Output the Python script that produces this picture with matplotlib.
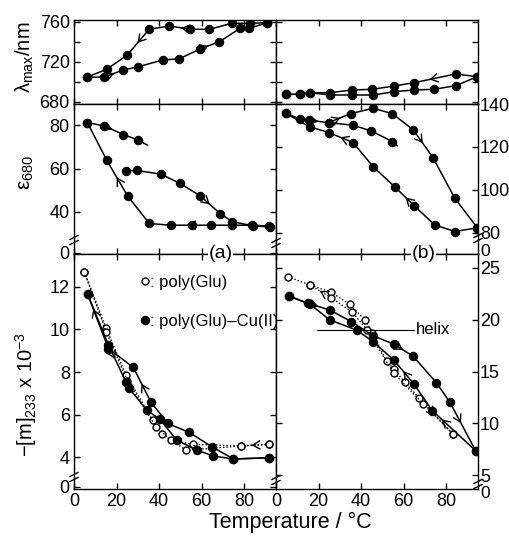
import matplotlib
matplotlib.use('Agg')
import matplotlib.pyplot as plt
from matplotlib.lines import Line2D

plt.rcParams['font.family'] = ['Liberation Sans', 'DejaVu Sans']
plt.rcParams['mathtext.fontset'] = 'custom'
plt.rcParams['mathtext.rm'] = 'Liberation Sans'
plt.rcParams['mathtext.it'] = 'Liberation Sans'
plt.rcParams['mathtext.bf'] = 'Liberation Sans:bold'
plt.rcParams['axes.linewidth'] = 1.0

# ---- (a) poly(Glu)-Cu(II): lambda max ----
ta_heat_T = [5.9, 14.1, 23.2, 30.3, 41.7, 49.6, 59.3, 68.4, 78.1, 82.5, 90.7]
ta_heat_L = [704.7, 705.0, 712.0, 715.3, 722.0, 723.3, 733.0, 740.3, 753.7, 753.7, 759.3]
ta_cool_T = [90.7, 82.8, 74.2, 63.7, 54.6, 44.9, 35.3, 25.1, 15.4, 5.9]
ta_cool_L = [759.3, 758.7, 758.7, 752.7, 752.7, 756.0, 752.7, 727.0, 712.7, 704.7]

# ---- (b) lambda max ----
tb_up_T = [94.7, 84.5, 64.9, 55.5, 45.3, 35.8, 25.3, 15.9, 11.2, 4.5]
tb_up_L = [705.3, 708.0, 699.3, 696.0, 692.7, 692.0, 689.3, 689.3, 687.7, 687.7]
tb_lo_T = [4.5, 11.2, 15.9, 25.6, 35.8, 45.7, 55.5, 64.9, 74.3, 84.5, 94.7]
tb_lo_L = [687.7, 687.7, 689.3, 687.0, 687.0, 687.0, 690.3, 692.0, 692.7, 696.3, 705.3]

# ---- (a) epsilon 680 ----
ma_s_T = [6.3, 14.1, 23.2, 30.3, 34.5]
ma_s_E = [81.2, 79.7, 75.7, 73.1, 70.8]
ma_cool_T = [91.9, 83.9, 74.5, 64.3, 55.4, 45.5, 35.4, 25.3, 15.4, 6.3]
ma_cool_E = [33.4, 33.8, 33.8, 33.8, 33.8, 33.8, 34.6, 47.2, 63.8, 81.2]
ma_heat_T = [24.5, 29.5, 40.8, 49.9, 59.3, 68.7, 74.5, 84.4, 92.0]
ma_heat_E = [58.8, 59.1, 57.4, 53.1, 47.4, 39.2, 35.4, 33.5, 33.0]

# ---- (b) epsilon 680 ----
mb_s_T = [4.5, 11.2, 15.4, 24.8, 36.3, 44.8, 54.7, 57.0]
mb_s_E = [135.7, 133.0, 132.4, 131.3, 130.1, 127.4, 122.5, 120.5]
mb_heat_T = [24.8, 35.1, 45.7, 54.7, 64.6, 73.8, 84.1, 94.7]
mb_heat_E = [131.3, 135.5, 138.0, 135.5, 127.9, 115.0, 96.0, 82.2]
mb_cool_T = [94.7, 84.1, 74.6, 64.9, 55.8, 45.7, 36.3, 24.8, 15.9, 4.5]
mb_cool_E = [82.2, 80.5, 83.6, 92.6, 101.4, 110.7, 122.0, 126.7, 129.3, 135.7]

# ---- (a) -[m]233 ----
ba_cu1_T = [6.4, 16.2, 24.5, 26.0, 34.2, 40.5, 48.3, 57.7, 65.6, 75.0, 91.9]
ba_cu1_m = [11.66, 9.27, 7.52, 7.23, 6.21, 5.77, 4.80, 4.33, 4.05, 3.91, 3.97]
ba_cu2_T = [91.9, 75.0, 64.8, 54.2, 44.1, 36.1, 27.9, 16.2, 6.4]
ba_cu2_m = [3.97, 3.91, 4.49, 5.16, 5.58, 6.60, 8.22, 9.10, 11.66]
ba_o1_T = [4.8, 15.1, 24.5, 37.0, 41.6, 52.7, 64.8, 78.6, 91.9]
ba_o1_m = [12.72, 10.06, 7.86, 5.74, 5.07, 4.33, 4.41, 4.53, 4.60]
ba_o2_T = [91.9, 78.6, 55.8, 45.6, 38.6, 25.0, 15.1, 4.8]
ba_o2_m = [4.60, 4.53, 4.60, 4.80, 5.43, 7.60, 9.90, 12.72]

# ---- (b) -[m]233 ----
bb_cu1_T = [6.0, 15.0, 25.3, 35.5, 45.7, 55.4, 64.4, 75.4, 81.8, 93.9]
bb_cu1_m = [22.29, 21.59, 20.94, 19.81, 18.46, 17.63, 16.50, 13.92, 12.02, 7.35]
bb_cu2_T = [93.9, 73.5, 64.9, 55.4, 45.7, 37.9, 25.3, 16.0, 6.0]
bb_cu2_m = [7.35, 11.22, 13.79, 16.11, 17.88, 19.00, 19.98, 21.50, 22.29]
bb_o1_T = [5.6, 15.9, 26.0, 34.7, 41.8, 45.3, 52.0, 55.4, 60.5, 67.2, 83.2]
bb_o1_m = [24.16, 23.36, 22.65, 21.49, 19.98, 18.75, 16.01, 15.24, 13.96, 12.47, 8.96]
bb_o2_T = [83.2, 69.3, 55.4, 42.9, 35.9, 26.0, 15.9]
bb_o2_m = [8.96, 11.86, 14.83, 19.00, 20.72, 22.13, 23.36]

helix_T = [19.5, 64.7]
helix_m = [19.05, 19.05]

xticks = [0, 20, 40, 60, 80]

W, H = 510, 538
fig = plt.figure(figsize=(W / 100, H / 100), dpi=100)


def box(x0, y0, x1, y1):
    return fig.add_axes([x0 / W, 1 - y1 / H, (x1 - x0) / W, (y1 - y0) / H])


ax_ta = box(74, 20, 276, 104)
ax_tb = box(276, 20, 478, 104)
ax_ma = box(74, 104, 276, 254)
ax_mb = box(276, 104, 478, 254)
ax_ba = box(74, 254, 276, 489)
ax_bb = box(276, 254, 478, 489)

for ax in [ax_ta, ax_tb, ax_ma, ax_mb, ax_ba, ax_bb]:
    ax.set_xlim(0, 95)
    ax.set_xticks(xticks)
    ax.tick_params(direction='in', length=4.5, width=1.0, top=True, right=True,
                   labelbottom=False, labelleft=False, labelsize=13, pad=3)

ax_ba.tick_params(labelbottom=True, labelleft=True)
ax_bb.tick_params(labelbottom=True, labelright=True)
ax_ta.tick_params(labelleft=True)
ax_ma.tick_params(labelleft=True)
ax_mb.tick_params(labelright=True)
ax_mb.tick_params(axis='y', pad=1.5)
ax_bb.tick_params(axis='y', pad=1.5)

ax_ta.set_ylim(678, 762)
ax_tb.set_ylim(678, 762)
ax_ta.set_yticks([680, 700, 720, 740, 760])
ax_ta.set_yticklabels(['680', '', '720', '', '760'])
ax_tb.set_yticks([680, 700, 720, 740, 760])

ax_ma.set_ylim(20.5, 89.8)
ax_ma.set_yticks([21, 40, 60, 80])
ax_ma.set_yticklabels(['0', '40', '60', '80'])
ax_mb.set_ylim(70, 140)
ax_mb.set_yticks([80, 100, 120, 140])

ax_ba.set_ylim(2.5, 13.55)
ax_ba.set_yticks([2.6, 4, 6, 8, 10, 12])
ax_ba.set_yticklabels(['0', '4', '6', '8', '10', '12'])
ax_bb.set_ylim(3.65, 26.35)
ax_bb.set_yticks([5, 10, 15, 20, 25])

# "0" labels below the right-hand axis breaks
for ax, dy in [(ax_mb, 2), (ax_bb, -3)]:
    ax.annotate('0', xy=(1, 0), xycoords='axes fraction', xytext=(2, dy),
                textcoords='offset points', fontsize=12.5, ha='left', va='center')

fk = dict(color='k', lw=1.1, marker='o', ms=5.8, mfc='k', mec='k')
ok = dict(color='k', lw=1.0, ls=(0, (1, 1.5)), marker='o', ms=5.0, mfc='white', mec='k', mew=1.0)


def arrow(ax, xs, ys, i, f=0.5):
    x0, y0, x1, y1 = xs[i], ys[i], xs[i + 1], ys[i + 1]
    a, b = f - 0.03, f + 0.03
    ax.annotate('', xy=(x0 + (x1 - x0) * b, y0 + (y1 - y0) * b),
                xytext=(x0 + (x1 - x0) * a, y0 + (y1 - y0) * a),
                arrowprops=dict(arrowstyle='->,head_length=0.5,head_width=0.3',
                                lw=1.0, color='k', shrinkA=0, shrinkB=0),
                annotation_clip=False)


# top panels
ax_ta.plot(ta_heat_T, ta_heat_L, **fk)
ax_ta.plot(ta_cool_T, ta_cool_L, **fk)
arrow(ax_ta, ta_heat_T, ta_heat_L, 1)
arrow(ax_ta, ta_heat_T, ta_heat_L, 6, 0.4)
arrow(ax_ta, ta_cool_T, ta_cool_L, 4, 0.4)
arrow(ax_ta, ta_cool_T, ta_cool_L, 6, 0.5)

ax_tb.plot(tb_up_T, tb_up_L, **fk)
ax_tb.plot(tb_lo_T, tb_lo_L, **fk)
arrow(ax_tb, tb_up_T, tb_up_L, 1, 0.6)

# middle panels
ax_ma.plot(ma_s_T, ma_s_E, markevery=[0, 1, 2, 3], **fk)
ax_ma.plot(ma_cool_T, ma_cool_E, **fk)
ax_ma.plot(ma_heat_T, ma_heat_E, **fk)
arrow(ax_ma, ma_s_T, ma_s_E, 1, 0.4)
arrow(ax_ma, ma_cool_T, ma_cool_E, 4, 0.2)
arrow(ax_ma, ma_cool_T, ma_cool_E, 7, 0.5)
arrow(ax_ma, ma_heat_T, ma_heat_E, 4, 0.45)

ax_mb.plot(mb_s_T, mb_s_E, markevery=list(range(7)), **fk)
ax_mb.plot(mb_heat_T, mb_heat_E, **fk)
ax_mb.plot(mb_cool_T, mb_cool_E, **fk)
arrow(ax_mb, mb_s_T, mb_s_E, 2, 0.45)
arrow(ax_mb, mb_heat_T, mb_heat_E, 0, 0.5)
arrow(ax_mb, mb_heat_T, mb_heat_E, 4, 0.45)
arrow(ax_mb, mb_cool_T, mb_cool_E, 3, 0.4)
arrow(ax_mb, mb_cool_T, mb_cool_E, 6, 0.5)

# bottom panels
ax_ba.plot(ba_o1_T, ba_o1_m, **ok)
ax_ba.plot(ba_o2_T, ba_o2_m, **ok)
ax_ba.plot(ba_cu1_T, ba_cu1_m, **fk)
ax_ba.plot(ba_cu2_T, ba_cu2_m, **fk)
arrow(ax_ba, ba_cu1_T, ba_cu1_m, 1, 0.35)
arrow(ax_ba, ba_cu2_T, ba_cu2_m, 5, 0.5)
arrow(ax_ba, ba_cu2_T, ba_cu2_m, 7, 0.7)
arrow(ax_ba, ba_o1_T, ba_o1_m, 5, 0.6)
arrow(ax_ba, ba_o2_T, ba_o2_m, 0, 0.6)

ax_bb.plot(bb_o1_T, bb_o1_m, **ok)
ax_bb.plot(bb_o2_T, bb_o2_m, **ok)
ax_bb.plot(bb_cu1_T, bb_cu1_m, **fk)
ax_bb.plot(bb_cu2_T, bb_cu2_m, **fk)
ax_bb.plot(helix_T, helix_m, color='k', lw=0.8)
ax_bb.text(66, helix_m[0], 'helix', fontsize=12, va='center', ha='left')
arrow(ax_bb, bb_cu1_T, bb_cu1_m, 1, 0.45)
arrow(ax_bb, bb_cu1_T, bb_cu1_m, 5, 0.45)
arrow(ax_bb, bb_cu1_T, bb_cu1_m, 8, 0.4)
arrow(ax_bb, bb_cu2_T, bb_cu2_m, 0, 0.75)
arrow(ax_bb, bb_cu2_T, bb_cu2_m, 2, 0.5)
arrow(ax_bb, bb_o2_T, bb_o2_m, 5, 0.5)
arrow(ax_bb, bb_o1_T, bb_o1_m, 9, 0.45)

# legend
hand = [Line2D([], [], ls='none', marker='o', ms=5.0, mfc='white', mec='k', mew=1.0),
        Line2D([], [], ls='none', marker='o', ms=5.8, mfc='k', mec='k')]
ax_ba.legend(hand, [': poly(Glu)', ': poly(Glu)\u2013Cu(II)'], loc='upper left',
             bbox_to_anchor=(0.327, 0.91), frameon=False, fontsize=12,
             handlelength=0.6, handletextpad=0.0, labelspacing=1.45,
             borderpad=0, borderaxespad=0)

# panel labels on boundary
ax_ba.text(0.725, 1.0, '(a)', transform=ax_ba.transAxes, fontsize=14,
           ha='center', va='center', bbox=dict(fc='white', ec='none', pad=0.5))
ax_bb.text(0.73, 1.0, '(b)', transform=ax_bb.transAxes, fontsize=14,
           ha='center', va='center', bbox=dict(fc='white', ec='none', pad=0.5))


# axis breaks
def brk(px, py):
    for d in (-2.5, 2.5):
        fig.add_artist(Line2D([(px - 4) / W, (px + 4) / W],
                              [1 - (py + d + 2) / H, 1 - (py + d - 2) / H],
                              color='k', lw=1.0))


for p in [(74, 240), (276, 243), (478, 238), (74, 477), (276, 480), (478, 484)]:
    brk(*p)

# axis titles
fig.text(25 / W, 1 - 57 / H, r'$\lambda_{\rm max}$/nm', rotation=90, fontsize=14.5,
         ha='center', va='center')
fig.text(26 / W, 1 - 172 / H, r'$\varepsilon_{680}$', rotation=90, fontsize=15,
         ha='center', va='center')
fig.text(26 / W, 1 - 394 / H, r'$-[m]_{233}$ x 10$^{-3}$', rotation=90, fontsize=14.5,
         ha='center', va='center')
fig.text(290 / W, 1 - 522 / H, 'Temperature / \u00b0C', fontsize=15.5,
         ha='center', va='center')

fig.savefig('out.png', dpi=100)
